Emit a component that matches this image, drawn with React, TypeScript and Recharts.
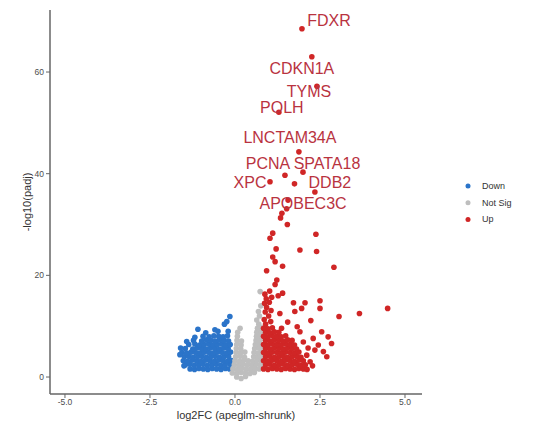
import React from "react";
import { ScatterChart, Scatter, XAxis, YAxis } from "recharts";

const xTicks = [-5, -2.5, 0, 2.5, 5];
const yTicks = [0, 20, 40, 60];

// log2FC, -log10(padj)
const downPoints: [number, number][] = [
  [-1.32, 1.6], [-1.19, 1.5], [-1.06, 1.7], [-0.93, 1.6], [-0.80, 1.5], [-0.67, 1.7], [-0.54, 1.6], [-0.41, 1.5], [-0.28, 1.7], [-0.16, 1.6],
  [-1.46, 2.4], [-1.33, 2.5], [-1.20, 2.3], [-1.07, 2.4], [-0.94, 2.5], [-0.81, 2.3], [-0.68, 2.4], [-0.55, 2.5], [-0.42, 2.3], [-0.29, 2.4], [-0.15, 2.5],
  [-1.52, 3.2], [-1.39, 3.1], [-1.26, 3.3], [-1.13, 3.2], [-1.00, 3.1], [-0.87, 3.3], [-0.74, 3.2], [-0.61, 3.1], [-0.48, 3.3], [-0.35, 3.2], [-0.22, 3.1], [-0.12, 3.3],
  [-1.49, 4.0], [-1.36, 4.1], [-1.23, 3.9], [-1.10, 4.0], [-0.97, 4.1], [-0.84, 3.9], [-0.71, 4.0], [-0.58, 4.1], [-0.45, 3.9], [-0.32, 4.0], [-0.19, 4.1],
  [-1.56, 4.8], [-1.42, 4.7], [-1.29, 4.9], [-1.16, 4.8], [-1.03, 4.7], [-0.90, 4.9], [-0.77, 4.8], [-0.64, 4.7], [-0.51, 4.9], [-0.38, 4.8], [-0.25, 4.7], [-0.13, 4.9],
  [-1.46, 5.6], [-1.24, 5.5], [-1.11, 5.7], [-0.98, 5.6], [-0.85, 5.5], [-0.72, 5.7], [-0.59, 5.6], [-0.46, 5.5], [-0.33, 5.7], [-0.20, 5.6],
  [-1.36, 6.4], [-1.18, 6.5], [-1.04, 6.3], [-0.91, 6.4], [-0.78, 6.5], [-0.65, 6.3], [-0.52, 6.4], [-0.39, 6.5], [-0.26, 6.3], [-0.14, 6.4],
  [-1.22, 7.2], [-0.98, 7.1], [-0.84, 7.3], [-0.71, 7.2], [-0.58, 7.1], [-0.45, 7.3], [-0.32, 7.2], [-0.19, 7.1],
  [-0.94, 8.0], [-0.76, 7.9], [-0.62, 8.1], [-0.48, 8.0], [-0.35, 7.9], [-0.22, 8.1],
  [-1.62, 4.4], [-1.60, 5.7], [-1.42, 7.0], [-1.18, 7.8], [-1.09, 9.4], [-0.86, 8.7], [-0.59, 9.3], [-0.50, 9.0],
  [-0.31, 10.4], [-0.24, 10.9], [-0.15, 11.9], [-0.20, 9.0], [-1.50, 2.2],
];

const notSigPoints: [number, number][] = [
  [0.05, 0.0], [0.18, -0.3], [0.31, 0.1],
  [-0.08, 0.8], [0.05, 0.7], [0.18, 0.9], [0.31, 0.8], [0.44, 0.7], [0.57, 0.9],
  [-0.06, 1.6], [0.07, 1.5], [0.20, 1.7], [0.33, 1.6], [0.46, 1.5], [0.59, 1.7], [0.71, 1.6],
  [-0.02, 2.4], [0.11, 2.3], [0.24, 2.5], [0.37, 2.4], [0.50, 2.3], [0.63, 2.5], [0.75, 2.4],
  [0.00, 3.2], [0.13, 3.1], [0.26, 3.3], [0.39, 3.2], [0.52, 3.1], [0.65, 3.3], [0.76, 3.2],
  [0.02, 4.0], [0.15, 4.1], [0.28, 3.9], [0.55, 4.0], [0.68, 4.1], [0.77, 3.9],
  [0.03, 4.8], [0.16, 4.7], [0.29, 4.9], [0.56, 4.8], [0.69, 4.7], [0.78, 4.9],
  [0.04, 5.6], [0.17, 5.5], [0.58, 5.6], [0.70, 5.7], [0.78, 5.5],
  [0.05, 6.4], [0.18, 6.3], [0.60, 6.4], [0.72, 6.5],
  [0.06, 7.2], [0.19, 7.1], [0.62, 7.2], [0.74, 7.3],
  [0.07, 8.0], [0.63, 8.0], [0.75, 8.1],
  [0.08, 8.8], [0.64, 8.8], [0.76, 8.9],
  [0.15, 9.6], [0.66, 9.6], [0.77, 9.7],
  [0.70, 10.4], [0.64, 11.2], [0.72, 12.0], [0.69, 12.9], [0.76, 14.0], [0.74, 16.8],
];

const upPoints: [number, number][] = [
  [0.84, 1.6], [0.97, 1.5], [1.10, 1.7], [1.23, 1.6], [1.36, 1.5], [1.49, 1.7], [1.62, 1.6], [1.75, 1.5], [1.88, 1.7], [2.01, 1.6], [2.12, 1.5],
  [0.90, 2.4], [1.03, 2.5], [1.16, 2.3], [1.29, 2.4], [1.42, 2.5], [1.55, 2.3], [1.68, 2.4], [1.81, 2.5], [1.94, 2.3], [2.07, 2.4],
  [0.84, 3.2], [0.97, 3.1], [1.10, 3.3], [1.23, 3.2], [1.36, 3.1], [1.49, 3.3], [1.62, 3.2], [1.75, 3.1], [1.88, 3.3], [2.01, 3.2],
  [0.90, 4.0], [1.03, 4.1], [1.16, 3.9], [1.29, 4.0], [1.42, 4.1], [1.55, 3.9], [1.68, 4.0], [1.81, 4.1], [1.94, 3.9],
  [0.84, 4.8], [0.97, 4.7], [1.10, 4.9], [1.23, 4.8], [1.36, 4.7], [1.49, 4.9], [1.62, 4.8], [1.75, 4.7], [1.88, 4.9],
  [0.90, 5.6], [1.03, 5.5], [1.16, 5.7], [1.29, 5.6], [1.42, 5.5], [1.55, 5.7], [1.68, 5.6], [1.81, 5.5],
  [0.84, 6.4], [0.97, 6.3], [1.10, 6.5], [1.23, 6.4], [1.36, 6.3], [1.49, 6.5], [1.62, 6.4], [1.75, 6.3],
  [0.90, 7.2], [1.03, 7.1], [1.16, 7.3], [1.29, 7.2], [1.42, 7.1], [1.55, 7.3], [1.68, 7.2],
  [0.84, 8.0], [0.97, 7.9], [1.10, 8.1], [1.23, 8.0], [1.36, 7.9], [1.49, 8.1],
  [0.90, 8.8], [1.03, 8.7], [1.16, 8.9], [1.29, 8.8],
  [0.84, 9.6], [0.97, 9.5], [1.10, 9.7],
  [0.90, 10.4], [1.05, 10.9], [0.86, 11.3], [0.99, 12.0], [0.89, 12.8], [1.06, 13.1], [0.93, 13.7],
  [0.87, 14.5], [1.01, 14.7], [0.92, 15.4], [1.08, 15.7], [0.88, 16.3], [1.02, 16.9],
  [1.37, 9.6], [1.83, 9.9], [1.91, 8.9], [2.55, 8.9], [2.30, 7.6], [2.74, 7.9], [2.84, 6.6], [2.60, 5.0],
  [2.35, 5.3], [2.21, 3.0], [2.11, 4.3], [2.28, 2.2], [2.01, 6.9], [2.45, 6.3], [2.15, 5.7], [2.70, 4.0],
  [1.32, 12.5], [1.76, 12.9], [1.96, 13.5], [2.23, 11.1], [1.72, 14.6], [2.06, 14.6], [2.50, 15.0], [2.50, 13.5],
  [3.06, 11.9], [3.66, 12.5], [4.49, 13.5], [1.55, 10.8],
  [1.40, 16.5], [1.27, 16.0], [1.18, 18.2], [1.23, 19.1], [0.93, 20.9], [1.40, 21.8], [1.18, 22.7], [1.11, 23.6],
  [2.91, 21.6], [1.21, 25.2], [1.91, 25.0], [2.40, 24.7], [1.03, 27.3], [1.11, 28.3], [2.38, 28.1], [1.54, 30.0],
  [1.34, 31.3], [1.38, 32.2], [1.52, 33.1], [1.75, 38.0],
];

const topGenes = ["FDXR", "CDKN1A", "TYMS", "POLH", "LNCTAM34A", "SPATA18", "PCNA", "XPC", "DDB2", "APOBEC3C"];
const topLog2fc = [1.97, 2.26, 2.41, 1.29, 1.88, 2.0, 1.47, 1.03, 2.35, 1.56];
const topPadj = [68.5, 63.0, 57.2, 52.1, 44.3, 40.3, 39.7, 38.4, 36.4, 34.8];

// label text offset from its point, in px (repel-style placement)
const labelNudge: Record<string, [number, number]> = {
  FDXR: [27, -8],
  CDKN1A: [-10, 12],
  TYMS: [-8, 5],
  POLH: [3, -5],
  LNCTAM34A: [-9, -14],
  SPATA18: [24, -9],
  PCNA: [-17, -12],
  XPC: [-20, 1],
  DDB2: [15, -9],
  APOBEC3C: [15, 3],
};

const legendItems = [
  { name: "Down", color: "#2b74c9" },
  { name: "Not Sig", color: "#bebebe" },
  { name: "Up", color: "#d02626" },
];

const LABEL_COLOR = "#b9333f";
const FONT = "'Liberation Sans', Arial, sans-serif";
const R = 2.8;

const toRows = (pts: [number, number][]) => pts.map(([x, y]) => ({ x, y }));
const topRows = topGenes.map((gene, i) => ({ gene, x: topLog2fc[i], y: topPadj[i] }));

const dot = (color: string) => (p: any) => <circle cx={p.cx} cy={p.cy} r={R} fill={color} />;

const LabeledDot = (p: any) => {
  const [dx, dy] = labelNudge[p.payload.gene] ?? [0, -10];
  return (
    <g>
      <circle cx={p.cx} cy={p.cy} r={R} fill={legendItems[2].color} />
      <text
        x={p.cx + dx}
        y={p.cy + dy}
        textAnchor="middle"
        dominantBaseline="central"
        fontSize={16}
        fill={LABEL_COLOR}
        fontFamily={FONT}
      >
        {p.payload.gene}
      </text>
    </g>
  );
};

export default function App() {
  const tickStyle = { fontSize: 8.5, fill: "#4d4d4d", fontFamily: FONT };
  return (
    <div style={{ position: "absolute", left: 0, top: 0, width: 550, height: 438, background: "#fff", fontFamily: FONT }}>
      <ScatterChart width={550} height={438} margin={{ top: 10, right: 128, bottom: 14, left: 0 }}>
        <XAxis
          type="number"
          dataKey="x"
          domain={[-5.44, 5.5]}
          ticks={xTicks}
          allowDataOverflow
          tickFormatter={(v: number) => v.toFixed(1)}
          tick={tickStyle}
          tickSize={4}
          tickMargin={1}
          height={30}
          axisLine={{ stroke: "#666", strokeWidth: 1.5 }}
          tickLine={{ stroke: "#666" }}
          label={{
            content: (props: any) => {
              const vb = props.viewBox;
              return (
                <text x={vb.x + vb.width / 2} y={vb.y + 21} textAnchor="middle" dominantBaseline="central" fontSize={11} fill="#333" fontFamily={FONT}>
                  log2FC (apeglm-shrunk)
                </text>
              );
            },
          }}
        />
        <YAxis
          type="number"
          dataKey="y"
          domain={[-3.34, 72.2]}
          ticks={yTicks}
          allowDataOverflow
          tick={tickStyle}
          tickSize={4}
          tickMargin={2}
          width={50}
          axisLine={{ stroke: "#666", strokeWidth: 1.5 }}
          tickLine={{ stroke: "#666" }}
          label={{
            content: (props: any) => {
              const vb = props.viewBox;
              const x = vb.x + 27;
              const y = vb.y + vb.height / 2;
              return (
                <text x={x} y={y} transform={`rotate(-90 ${x} ${y})`} textAnchor="middle" dominantBaseline="central" fontSize={11} fill="#333" fontFamily={FONT}>
                  -log10(padj)
                </text>
              );
            },
          }}
        />
        <Scatter name="Down" data={toRows(downPoints)} shape={dot(legendItems[0].color)} isAnimationActive={false} />
        <Scatter name="Not Sig" data={toRows(notSigPoints)} shape={dot(legendItems[1].color)} isAnimationActive={false} />
        <Scatter name="Up" data={toRows(upPoints)} shape={dot(legendItems[2].color)} isAnimationActive={false} />
        <Scatter name="Top" data={topRows} shape={LabeledDot} isAnimationActive={false} />
      </ScatterChart>
      <svg width={80} height={60} style={{ position: "absolute", left: 460, top: 176 }}>
        {legendItems.map((item, i) => (
          <g key={item.name}>
            <circle cx={8} cy={10 + i * 16.7} r={2.5} fill={item.color} />
            <text x={22} y={10 + i * 16.7} dominantBaseline="central" fontSize={9} fill="#333" fontFamily={FONT}>
              {item.name}
            </text>
          </g>
        ))}
      </svg>
    </div>
  );
}
